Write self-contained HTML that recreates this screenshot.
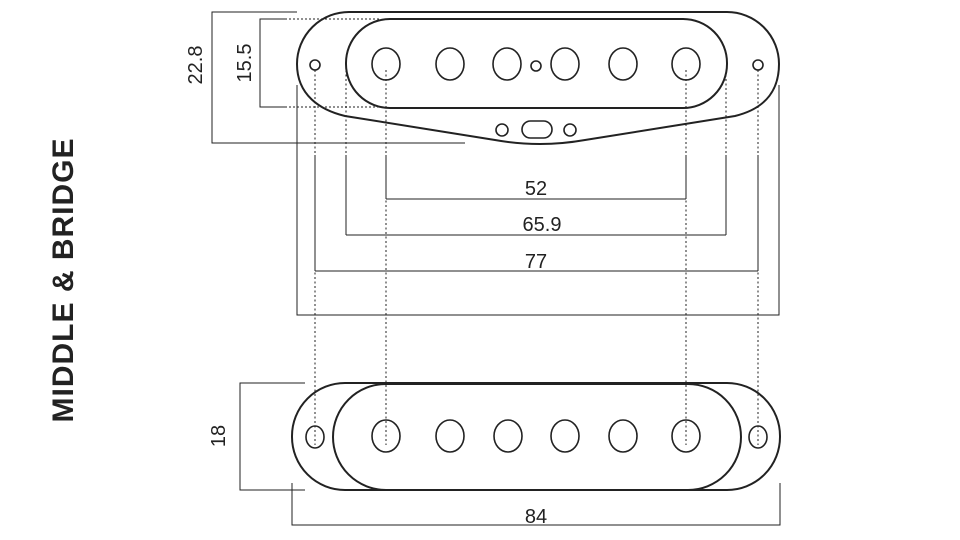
<!DOCTYPE html>
<html><head><style>body{margin:0;background:#fff}svg{display:block}</style></head><body>
<svg width="960" height="540" viewBox="0 0 960 540" xmlns="http://www.w3.org/2000/svg" font-family="Liberation Sans, sans-serif">
<g fill="none" stroke="#222" stroke-width="1.6">
<path d="M350,12 L727,12 A52,52 0 0 1 779,64 C779,95 760,110 735,116 L585,140 Q540,148 495,140 L345,116 C320,110 297,95 297,64 A52,52 0 0 1 350,12 Z" stroke-width="2"/>
<rect x="346" y="19" width="381" height="89" rx="44" ry="44" stroke-width="2"/>
<ellipse cx="386" cy="64" rx="14" ry="16"/><ellipse cx="450" cy="64" rx="14" ry="16"/><ellipse cx="507" cy="64" rx="14" ry="16"/>
<ellipse cx="565" cy="64" rx="14" ry="16"/><ellipse cx="623" cy="64" rx="14" ry="16"/><ellipse cx="686" cy="64" rx="14" ry="16"/>
<circle cx="536" cy="66" r="5"/><circle cx="315" cy="65" r="5"/><circle cx="758" cy="65" r="5"/>
<circle cx="502" cy="130" r="6"/><circle cx="570" cy="130" r="6"/><rect x="522" y="121" width="30" height="17" rx="8.5"/>
</g>
<g fill="none" stroke="#222" stroke-width="1">
<path d="M297,12 H212 V143 H465"/>
<path d="M285,19 H260 V107 H285"/>
<path d="M285,19 H380 M285,107 H380" stroke-dasharray="2,2"/>
<path d="M315,155 V271 M346,155 V235 M386,155 V199 M686,155 V199 M726,155 V235 M758,155 V271"/>
<path d="M386,199 H686 M346,235 H726 M315,271 H758"/>
<path d="M297,85 V315 H779 V85"/>
<path d="M315,70 V445 M386,70 V445 M686,70 V445 M758,70 V445 M346,70 V155 M726,70 V155" stroke-dasharray="2,2.5"/>
<path d="M305,383 H240 V490 H305"/>
<path d="M292,483 V525 H780 V483"/>
</g>
<g fill="none" stroke="#222" stroke-width="2">
<rect x="292" y="383" width="488" height="107" rx="53" ry="53"/>
<rect x="333" y="384" width="408" height="106" rx="53" ry="53"/>
</g>
<g fill="none" stroke="#222" stroke-width="1.6">
<ellipse cx="315" cy="437" rx="9" ry="11"/><ellipse cx="758" cy="437" rx="9" ry="11"/>
<ellipse cx="386" cy="436" rx="14" ry="16"/><ellipse cx="450" cy="436" rx="14" ry="16"/><ellipse cx="508" cy="436" rx="14" ry="16"/>
<ellipse cx="565" cy="436" rx="14" ry="16"/><ellipse cx="623" cy="436" rx="14" ry="16"/><ellipse cx="686" cy="436" rx="14" ry="16"/>
</g>
<g fill="#222" font-size="20" text-anchor="middle">
<text x="536" y="195">52</text>
<text x="542" y="231">65.9</text>
<text x="536" y="268">77</text>
<text x="536" y="523">84</text>
<text transform="translate(202,65) rotate(-90)">22.8</text>
<text transform="translate(251,63) rotate(-90)">15.5</text>
<text transform="translate(225,436) rotate(-90)">18</text>
<text transform="translate(73,280) rotate(-90)" font-size="30" font-weight="bold" letter-spacing="1">MIDDLE &amp; BRIDGE</text>
</g>
</svg>
</body></html>
